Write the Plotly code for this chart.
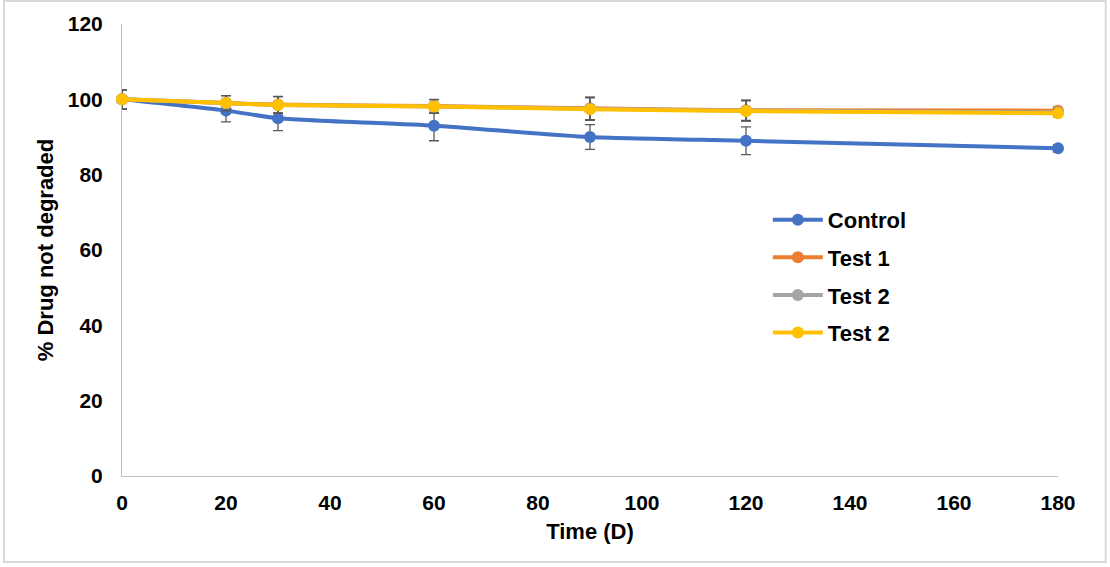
import plotly.graph_objects as go

days = [0, 20, 30, 60, 90, 120, 180]
control = [100, 97, 95, 93, 90, 89, 87]
control_err = [2.5, 3, 3.3, 4, 3.3, 3.7, 1]
test1 = [100, 99, 98.6, 98.2, 97.6, 97.1, 97]
test1_err = [2.5, 2, 2.2, 1.8, 3, 2.7, 1]
test2a = [100, 99, 98.5, 98.1, 97.5, 97, 96.5]
test2a_err = [2.5, 2, 2.2, 1.8, 3, 2.7, 1]
test2b = [100, 99, 98.5, 98.1, 97.4, 96.9, 96.3]
test2b_err = [2.5, 2, 2.2, 1.8, 3, 2.7, 1]

names = ["Control", "Test 1", "Test 2", "Test 2"]
series = [control, test1, test2a, test2b]
errors = [control_err, test1_err, test2a_err, test2b_err]
colors = ["#4472C4", "#ED7D31", "#A5A5A5", "#FFC000"]

FONT = "Arial, Liberation Sans, sans-serif"
fig = go.Figure()
for i, (n, s, e, c) in enumerate(zip(names, series, errors, colors)):
    fig.add_trace(go.Scatter(
        x=days, y=s, name=n, mode="lines+markers",
        line=dict(color=c, width=4, shape="spline", smoothing=0.6),
        marker=dict(color=c, size=12),
        error_y=dict(type="data", array=e, visible=True, color="#595959", thickness=1.3, width=5),
        legendgroup=f"g{i}", cliponaxis=False,
    ))

fig.update_layout(
    width=1110, height=567,
    paper_bgcolor="white", plot_bgcolor="white",
    margin=dict(l=122, r=52, t=24, b=91),
    font=dict(family=FONT, color="black", size=21),
    showlegend=True,
    legend=dict(x=0.69, y=0.613, xanchor="left", yanchor="top",
                font=dict(family=FONT, size=22, color="black", weight="bold"),
                tracegroupgap=6, itemwidth=50, bgcolor="rgba(0,0,0,0)"),
    xaxis=dict(range=[0, 180], tickvals=[0, 20, 40, 60, 80, 100, 120, 140, 160, 180],
               showgrid=False, zeroline=False, showline=True, linecolor="#BFBFBF", linewidth=1,
               ticks="", ticklabelstandoff=8, tickfont=dict(family=FONT, size=21, weight="bold"),
               title=dict(text="<b>Time (D)</b>", font=dict(family=FONT, size=22), standoff=10)),
    yaxis=dict(range=[0, 120], tickvals=[0, 20, 40, 60, 80, 100, 120],
               showgrid=False, zeroline=False, showline=True, linecolor="#BFBFBF", linewidth=1,
               ticks="", ticklabelstandoff=14, tickfont=dict(family=FONT, size=21, weight="bold"),
               title=dict(text="<b>% Drug not degraded</b>", font=dict(family=FONT, size=22), standoff=8)),
    shapes=[dict(type="rect", xref="paper", yref="paper", x0=-0.126, x1=1.051, y0=-0.190, y1=1.051,
                 line=dict(color="#D9D9D9", width=2))],
)
fig.write_html("out.html", config={"displayModeBar": False},
               post_script="document.body.style.margin='0';document.body.style.overflow='hidden';")
